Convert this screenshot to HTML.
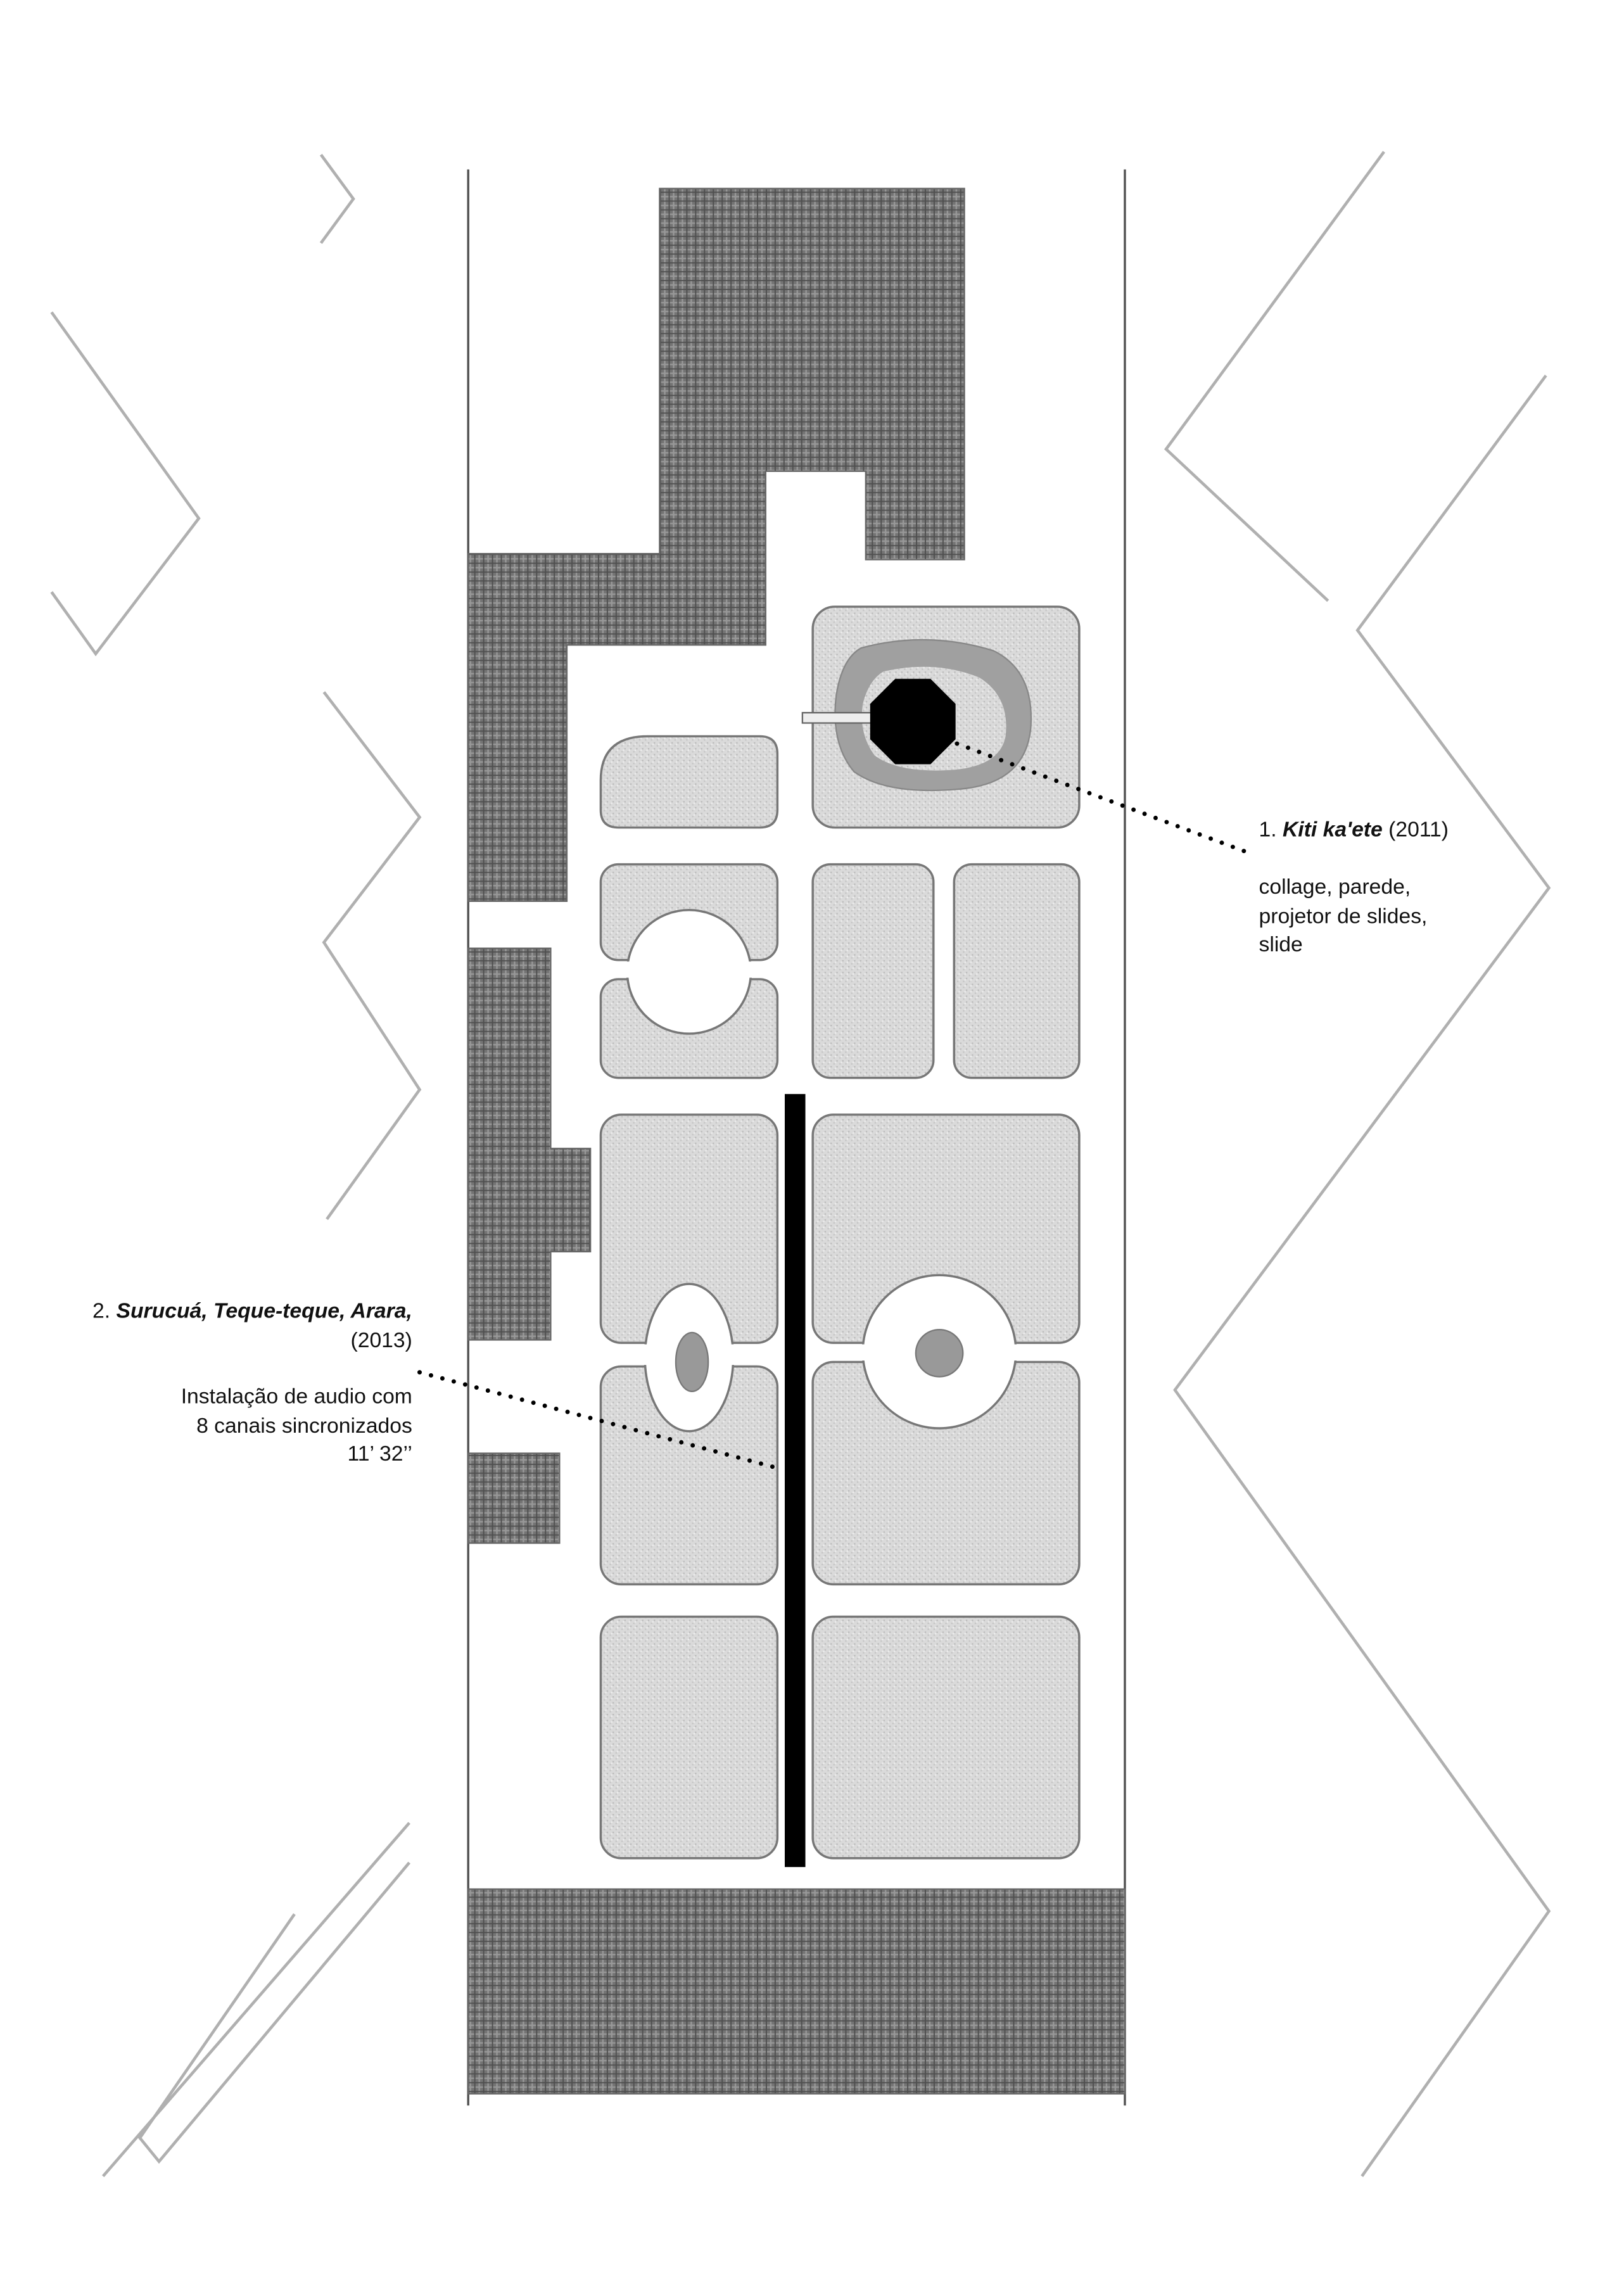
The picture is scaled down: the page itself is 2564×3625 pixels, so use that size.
<!DOCTYPE html>
<html><head><meta charset="utf-8"><style>html,body{margin:0;padding:0;background:#fff}svg{display:block}</style></head>
<body>
<svg width="2564" height="3625" viewBox="0 0 1103 1559.3" xmlns="http://www.w3.org/2000/svg">
<defs>
<pattern id="dk" width="6" height="6" patternUnits="userSpaceOnUse">
<rect width="6" height="6" fill="#747474"/>
<path d="M0 1.5H6M1.5 0V6" stroke="#999" stroke-width="1"/>
<path d="M0 4.5H6M4.5 0V6" stroke="#4e4e4e" stroke-width="0.8"/>
</pattern>
<pattern id="lt" width="4" height="4" patternUnits="userSpaceOnUse">
<rect width="4" height="4" fill="#dadada"/>
<rect x="0" y="0" width="1" height="1" fill="#bbb"/>
<rect x="2" y="2" width="1" height="1" fill="#c4c4c4"/>
<rect x="3" y="1" width="1" height="1" fill="#eee"/>
</pattern>
<mask id="holes" maskUnits="userSpaceOnUse" x="0" y="0" width="1103" height="1560">
<rect width="1103" height="1560" fill="#fff"/>
<circle cx="468" cy="660" r="42" fill="#000"/>
<ellipse cx="468" cy="922" rx="30" ry="50" fill="#000"/>
<circle cx="638" cy="918" r="52" fill="#000"/>
</mask>
<clipPath id="cd"><rect x="407" y="586" width="122" height="67" rx="12"/><rect x="407" y="664" width="122" height="69" rx="12"/></clipPath>
<clipPath id="gh"><rect x="407" y="756" width="122" height="157" rx="14"/><rect x="407" y="927" width="122" height="150" rx="14"/></clipPath>
<clipPath id="ij"><rect x="551" y="756" width="183" height="157" rx="14"/><rect x="551" y="924" width="183" height="153" rx="14"/></clipPath>
</defs>

<g stroke="#b0b0b0" stroke-width="2" fill="none">
<polyline points="218,105 240,135 218,165"/>
<polyline points="35,212 135,352 65,444 35,402"/>
<polyline points="220,470 285,555 220,640 285,740 222,828"/>
<polyline points="278,1238 70,1478"/>
<polyline points="200,1300 95,1452 108,1468 278,1265"/>
<polyline points="940,103 792,305 902,408"/>
<polyline points="1050,255 922,428 1052,603 798,944 1052,1298 925,1478"/>
</g>

<g stroke="#555" stroke-width="1.5">
<line x1="318" y1="115" x2="318" y2="1430"/>
<line x1="764" y1="115" x2="764" y2="1430"/>
</g>

<g fill="url(#dk)" stroke="#666" stroke-width="1">
<polygon points="448,128 655,128 655,380 588,380 588,320 520,320 520,438 385,438 385,612 318,612 318,376 448,376"/>
<polygon points="318,644 374,644 374,780 401,780 401,850 374,850 374,910 318,910"/>
<rect x="318" y="987" width="62" height="61"/>
<rect x="318" y="1283" width="446" height="139"/>
</g>

<g fill="url(#lt)" stroke="#777" stroke-width="1.5" mask="url(#holes)">
<path d="M440 500 H516 Q528 500 528 512 V550 Q528 562 516 562 H420 Q408 562 408 550 V530 Q408 500 440 500 Z"/>
<rect x="552" y="412" width="181" height="150" rx="15"/>
<rect x="408" y="587" width="120" height="65" rx="12"/>
<rect x="408" y="665" width="120" height="67" rx="12"/>
<rect x="552" y="587" width="82" height="145" rx="12"/>
<rect x="648" y="587" width="85" height="145" rx="12"/>
<rect x="408" y="757" width="120" height="155" rx="14"/>
<rect x="408" y="928" width="120" height="148" rx="14"/>
<rect x="552" y="757" width="181" height="155" rx="14"/>
<rect x="552" y="925" width="181" height="151" rx="14"/>
<rect x="408" y="1098" width="120" height="164" rx="14"/>
<rect x="552" y="1098" width="181" height="164" rx="14"/>
</g>

<g fill="none" stroke="#777" stroke-width="1.5">
<g clip-path="url(#cd)"><circle cx="468" cy="660" r="42"/></g>
<g clip-path="url(#gh)"><ellipse cx="468" cy="922" rx="30" ry="50"/></g>
<g clip-path="url(#ij)"><circle cx="638" cy="918" r="52"/></g>
</g>
<ellipse cx="470" cy="925" rx="11" ry="20" fill="#999" stroke="#777" stroke-width="1"/>
<circle cx="638" cy="919" r="16" fill="#999" stroke="#777" stroke-width="1"/>

<!-- Kiti installation -->
<path d="M585 440 Q630 428 675 442 Q703 456 700 495 Q696 533 650 536 Q602 540 580 524 Q564 505 568 472 Q572 447 585 440 Z" fill="#a0a0a0" stroke="#888" stroke-width="1"/>
<path d="M600 456 Q635 448 665 460 Q686 473 683 500 Q679 521 645 523 Q610 525 594 513 Q583 498 586 478 Q590 462 600 456 Z" fill="url(#lt)"/>
<rect x="545" y="484" width="50" height="7" fill="#eee" stroke="#666" stroke-width="1"/>
<polygon points="608,461 632,461 649,478 649,502 632,519 608,519 591,502 591,478" fill="#000"/>

<rect x="533" y="743" width="14" height="525" fill="#000"/>

<g stroke="#000" stroke-width="3" stroke-linecap="round" stroke-dasharray="0 8">
<line x1="650" y1="505" x2="845" y2="578"/>
<line x1="285" y1="932" x2="528" y2="997"/>
</g>

<g font-family="'Liberation Sans', sans-serif" font-size="14.5" fill="#111">
<text x="855" y="568">1. <tspan font-weight="bold" font-style="italic">Kiti ka'ete</tspan> (2011)</text>
<text x="855" y="607">collage, parede,</text>
<text x="855" y="627">projetor de slides,</text>
<text x="855" y="646">slide</text>
<g text-anchor="end">
<text x="280" y="895">2. <tspan font-weight="bold" font-style="italic">Surucuá, Teque-teque, Arara,</tspan></text>
<text x="280" y="915">(2013)</text>
<text x="280" y="953">Instalação de audio com</text>
<text x="280" y="973">8 canais sincronizados</text>
<text x="280" y="992">11’ 32’’</text>
</g>
</g>
</svg>
</body></html>
